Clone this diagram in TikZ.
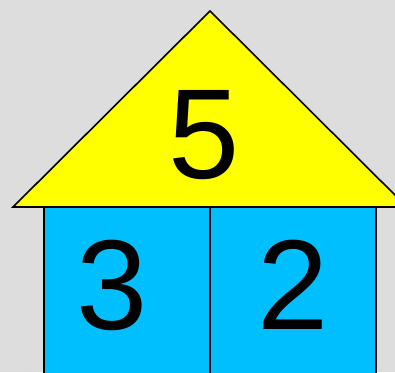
\documentclass[tikz,border=0pt]{standalone}
\usepackage{fontspec}
\setmainfont{Liberation Sans}
\definecolor{bgc}{HTML}{DDDDDD}
\definecolor{roofc}{HTML}{FFFF00}
\definecolor{wallc}{HTML}{00BFFF}
\tikzset{
  part/.style={draw=black, line width=1.6pt, line join=miter},
  digit/.style={inner sep=0pt, anchor=base, font=\fontsize{128}{128}\selectfont}
}
\begin{document}
\begin{tikzpicture}[x=1pt,y=-1pt]
\fill[bgc] (0,0) rectangle (395,372);
\useasboundingbox (0,0) rectangle (395,372);
\clip (0,0) rectangle (395,372);
\draw[part, fill=wallc] (44,207) rectangle (210,380);
\draw[part, fill=wallc] (210,207) rectangle (376,380);
\draw[part, fill=roofc] (13,207) -- (210,11) -- (407,207) -- cycle;
\node[digit] (five) at (204,178) {5};
\node[digit] (three) at (112,329) {3};
\node[digit] (two) at (293,329) {2};
\end{tikzpicture}
\end{document}
